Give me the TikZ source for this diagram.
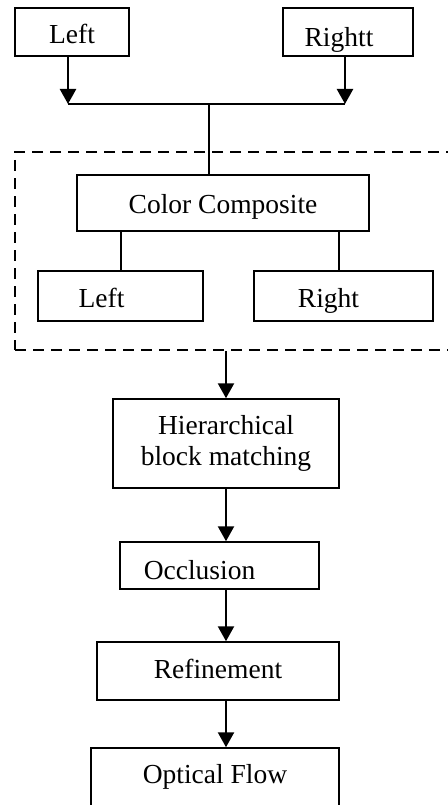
\documentclass[tikz,border=0pt]{standalone}
\usepackage{fontspec}
\setmainfont{Liberation Serif}
\usetikzlibrary{arrows.meta}
\tikzset{%
    block/.style={%
        draw, line width=1.5pt, inner sep=0pt, align=center,
        font=\fontsize{27.5}{31}\selectfont
    },
    oneline/.style={text height=29pt, text depth=6.5pt},
    dashbox/.style={draw, line width=2.2pt, dash pattern=on 11pt off 7pt},
    arr/.style={line width=2.4pt, -{Triangle[width=16pt,length=15pt]}},
    link/.style={line width=1.8pt}
}
\begin{document}
\begin{tikzpicture}[x=1pt,y=-1pt]
\useasboundingbox (0,0) rectangle (447,805);
%\draw [help lines] (0,0) grid (447,805);
\node[block, oneline, minimum width=114pt, minimum height=48pt] (P0) at (72,32) {Left};
\node[block, oneline, text height=36.5pt, minimum width=130pt, minimum height=48pt] (P1) at (348,32) {Rightt\hspace{18pt}};

\node[dashbox, minimum width=455pt, minimum height=198pt] (P5) at (242.5,251) {};
\node[block, oneline, text height=27pt, minimum width=292pt, minimum height=56pt] (P2) at (223,203) {Color Composite};
\node[block, oneline, minimum width=165pt, minimum height=50pt] (P3) at (120.5,296) {Left\hspace{38pt}};
\node[block, oneline, minimum width=179pt, minimum height=50pt] (P4) at (343.5,296) {Right\hspace{30pt}};

\node[block, minimum width=226pt, minimum height=89pt] (P6) at (226,443.5) {Hierarchical\\block matching};
\node[block, oneline, text height=35pt, minimum width=199pt, minimum height=47pt] (P7) at (219.5,565.5) {Occlusion\hspace{40pt}};
\node[block, oneline, text height=20.5pt, minimum width=242pt, minimum height=58pt] (P8) at (218,671) {Refinement};
\node[block, text height=18pt, text depth=12pt, minimum width=248pt, minimum height=64pt] (P9) at (215,780) {Optical Flow};

\coordinate (J0) at (68,104);
\coordinate (J1) at (345,104);
\coordinate (J2) at (209,104);
\coordinate (J3) at ([xshift=-4.5pt]P4.north);
\coordinate (J4) at ([xshift=0.5pt]P3.north);

\path[arr]
% Left to bar
(P0.south -| J0) edge (J0)
% Rightt to bar
(P1.south -| J1) edge (J1)
% composite to Hierarchical
(P6.north |- P5.south) edge (P6.north)
% Hierarchical to Occlusion
(P6.south) edge (P6.south |- P7.north)
% Occlusion to Refinement
(P6.south |- P7.south) edge (P6.south |- P8.north)
% Refinement to Optical Flow
(P6.south |- P8.south) edge (P6.south |- P9.north)
;

\path[link]
% bar
(J0) edge (J1)
% bar to Color Composite
(J2) edge (J2 |- P2.north)
% Color Composite to Left
(J4 |- P2.south) edge (J4)
% Color Composite to Right
(J3 |- P2.south) edge (J3)
;
\end{tikzpicture}
\end{document}
